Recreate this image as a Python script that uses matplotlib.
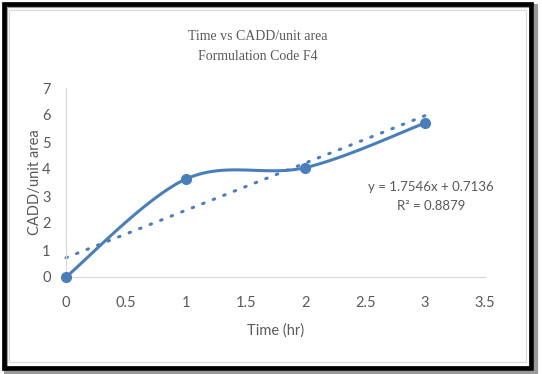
import numpy as np
import matplotlib
matplotlib.use("Agg")
import matplotlib.pyplot as plt
from matplotlib.patches import Rectangle

# data
time_hr = [0, 1, 2, 3]
cadd = [0.0, 3.625, 4.052, 5.705]
x_ticks = [0, 0.5, 1, 1.5, 2, 2.5, 3, 3.5]
y_ticks = [0, 1, 2, 3, 4, 5, 6, 7]
slope = 1.7546
intercept = 0.7136
r2 = 0.8879

blue = "#4a7ebb"
grey_txt = "#595959"
W, H = 542, 374


def smooth_curve(xs, ys, n=40):
    # catmull-rom style smoothing like excel's "smoothed line"
    px = [xs[0]] + list(xs) + [xs[-1]]
    py = [ys[0]] + list(ys) + [ys[-1]]
    out_x, out_y = [], []
    for i in range(1, len(px) - 2):
        p0 = np.array([px[i - 1], py[i - 1]])
        p1 = np.array([px[i], py[i]])
        p2 = np.array([px[i + 1], py[i + 1]])
        p3 = np.array([px[i + 2], py[i + 2]])
        c1 = p1 + (p2 - p0) / 6
        c2 = p2 - (p3 - p1) / 6
        t = np.linspace(0, 1, n)[:, None]
        pts = (1 - t) ** 3 * p1 + 3 * (1 - t) ** 2 * t * c1 + 3 * (1 - t) * t ** 2 * c2 + t ** 3 * p2
        out_x.extend(pts[:, 0])
        out_y.extend(pts[:, 1])
    return out_x, out_y


fig = plt.figure(figsize=(W / 100, H / 100), dpi=100)
fig.patch.set_facecolor("white")

# frame with shadow
fig.patches.append(Rectangle((6 / W, 1 - 373 / H), 530 / W, 367 / H, transform=fig.transFigure,
                             facecolor="none", edgecolor="#9a9a9a", linewidth=3, zorder=0))
fig.patches.append(Rectangle((4 / W, 1 - 368 / H), 527 / W, 364 / H, transform=fig.transFigure,
                             facecolor="none", edgecolor="black", linewidth=3.4, zorder=1))
fig.patches.append(Rectangle((9 / W, 1 - 362 / H), 517 / W, 352 / H, transform=fig.transFigure,
                             facecolor="none", edgecolor="#d9d9d9", linewidth=0.8, zorder=1))

ax = fig.add_axes([66 / W, 97 / H, 419 / W, 189 / H])
ax.set_xlim(0, 3.5)
ax.set_ylim(0, 7)
ax.set_xticks(x_ticks)
ax.set_yticks(y_ticks)
ax.set_xticklabels([f"{v:g}" for v in x_ticks])
ax.tick_params(length=0, labelsize=10.5, labelcolor=grey_txt)
ax.tick_params(axis="x", pad=14)
ax.tick_params(axis="y", pad=11)
for lab in ax.get_xticklabels() + ax.get_yticklabels():
    lab.set_family("Lato")
for side in ["top", "right"]:
    ax.spines[side].set_visible(False)
for side in ["left", "bottom"]:
    ax.spines[side].set_color("#d9d9d9")
    ax.spines[side].set_linewidth(0.9)

sx, sy = smooth_curve(time_hr, cadd)
ax.plot(sx, sy, color=blue, linewidth=2.2, solid_capstyle="round", clip_on=False, zorder=3)
ax.plot(time_hr, cadd, "o", color=blue, markersize=7, clip_on=False, zorder=4)

tx = np.array([time_hr[0], time_hr[-1]])
ax.plot(tx, slope * tx + intercept, color=blue, linewidth=2.2, linestyle=(0, (0.5, 3.2)),
        dash_capstyle="round", clip_on=False, zorder=2)

ax.text(3.05, 3.33, f"y = {slope}x + {intercept}", ha="center", va="center",
        fontsize=9.5, color=grey_txt, family="Lato")
ax.text(3.05, 2.63, f"R² = {r2}", ha="center", va="center",
        fontsize=9.5, color=grey_txt, family="Lato")

ax.set_xlabel("Time (hr)", fontsize=10.5, color=grey_txt, family="Lato", labelpad=9)
ax.set_ylabel("CADD/unit area", fontsize=10.5, color=grey_txt, family="Lato")
ax.yaxis.set_label_coords(-0.058, 0.5)

fig.text(258 / W, 1 - 37 / H, "Time vs CADD/unit area", ha="center", va="center",
         fontsize=10, color=grey_txt, family="Liberation Serif")
fig.text(258 / W, 1 - 57 / H, "Formulation Code F4", ha="center", va="center",
         fontsize=10, color=grey_txt, family="Liberation Serif")

fig.savefig("out.png", dpi=100)
